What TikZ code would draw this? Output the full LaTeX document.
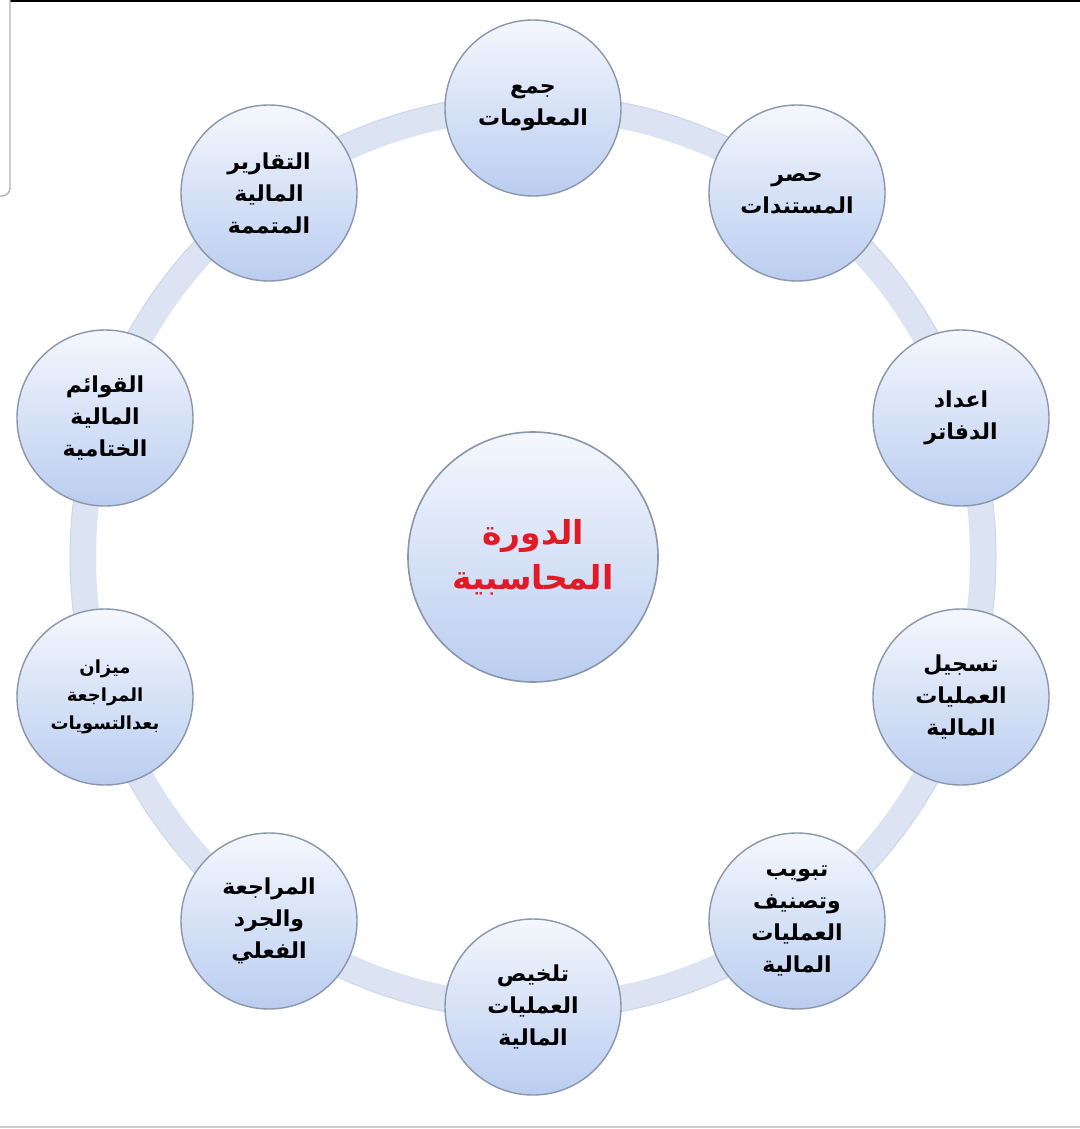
\documentclass[tikz,border=0pt]{standalone}
\usepackage{fontspec}
\TeXXeTstate=1
\newfontfamily\arabicfont[Script=Arabic]{DejaVu Sans}
\newcommand{\artx}[1]{\beginR #1\endR}
\definecolor{ringcol}{HTML}{DCE4F3}
\definecolor{ringedge}{HTML}{CDD7EC}
\definecolor{nodetop}{HTML}{F4F7FD}
\definecolor{nodebot}{HTML}{BACDF0}
\definecolor{nodeedge}{HTML}{8A96AA}
\definecolor{titlered}{HTML}{E11B25}
\tikzset{
  stagenode/.style={circle, draw=nodeedge, line width=0.7pt, top color=nodetop, bottom color=nodebot,
    minimum size=88pt, inner sep=0pt, align=center, font=\arabicfont\bfseries\fontsize{11}{16}\selectfont},
  hubnode/.style={circle, draw=nodeedge, line width=0.8pt, top color=nodetop, bottom color=nodebot,
    minimum size=125pt, inner sep=0pt, align=center, text=titlered,
    font=\arabicfont\bfseries\fontsize{16.5}{22.5}\selectfont},
  ringline/.style={draw=ringcol, line width=13pt}
}
\begin{document}
\begin{tikzpicture}[x=0.5pt,y=-0.5pt]
\useasboundingbox (0,0) rectangle (1080,1129);
\fill[white] (0,0) rectangle (1080,1129);
% screenshot frame artefacts
\draw[black, line width=1.2pt] (10,1) -- (1080,1);
\draw[gray!60, line width=0.7pt] (10,0) -- (10,188) arc[start angle=0, end angle=-90, radius=4pt] -- (0,196);
\draw[gray!40, line width=0.6pt] (0,1127) -- (1080,1127);
% hub and ring
\coordinate (o) at (533,557);
\draw[ringline] (o) circle[radius=225pt];
\draw[ringedge, line width=0.5pt] (o) circle[radius=231.5pt];
\node[hubnode] (hub) at (o) {\artx{الدورة}\\\artx{المحاسبية}};
% stages
\node[stagenode] (s1) at (533,108) {\artx{جمع}\\\artx{المعلومات}};
\node[stagenode] (s2) at (797,193) {\artx{حصر}\\\artx{المستندات}};
\node[stagenode] (s3) at (961,418) {\artx{اعداد}\\\artx{الدفاتر}};
\node[stagenode] (s4) at (961,697) {\artx{تسجيل}\\\artx{العمليات}\\\artx{المالية}};
\node[stagenode] (s5) at (797,921) {\artx{تبويب}\\\artx{وتصنيف}\\\artx{العمليات}\\\artx{المالية}};
\node[stagenode] (s6) at (533,1007) {\artx{تلخيص}\\\artx{العمليات}\\\artx{المالية}};
\node[stagenode] (s7) at (269,921) {\artx{المراجعة}\\\artx{والجرد}\\\artx{الفعلي}};
\node[stagenode, font=\arabicfont\bfseries\fontsize{9}{14}\selectfont] (s8) at (105,697) {\artx{ميزان}\\\artx{المراجعة}\\\artx{بعدالتسويات}};
\node[stagenode] (s9) at (105,418) {\artx{القوائم}\\\artx{المالية}\\\artx{الختامية}};
\node[stagenode] (s10) at (269,193) {\artx{التقارير}\\\artx{المالية}\\\artx{المتممة}};
\end{tikzpicture}
\end{document}
